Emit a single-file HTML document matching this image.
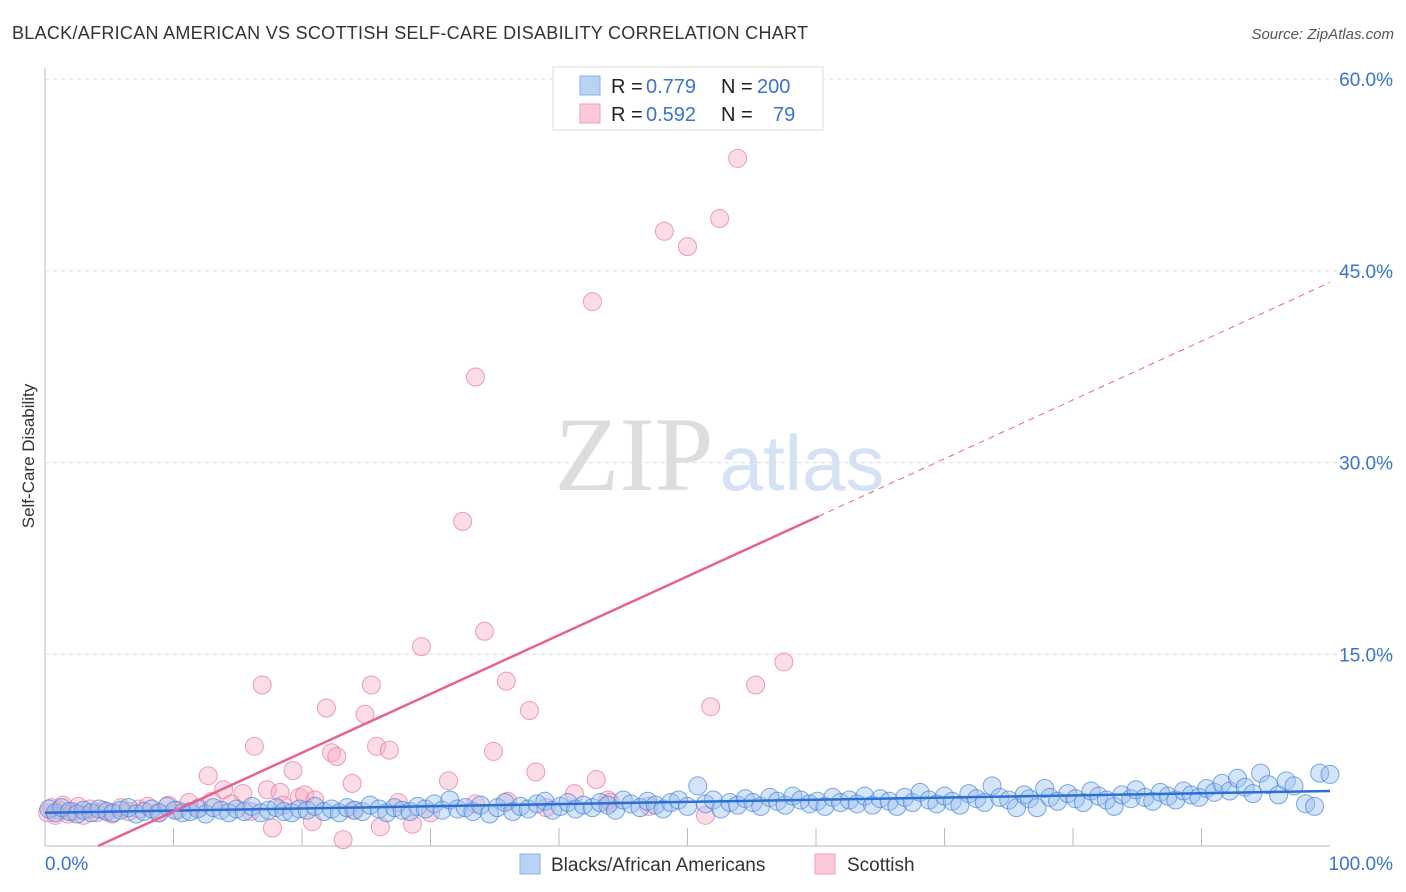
<!DOCTYPE html>
<html><head><meta charset="utf-8"><style>
body{margin:0;background:#fff;font-family:"Liberation Sans",sans-serif;}
#wrap{position:relative;width:1406px;height:892px;overflow:hidden;}
</style></head><body>
<div id="wrap">
<svg id="chart" width="1406" height="892">
<text x="12" y="39" font-size="18" fill="#333" textLength="796">BLACK/AFRICAN AMERICAN VS SCOTTISH SELF-CARE DISABILITY CORRELATION CHART</text>
<text x="1394" y="39" font-size="15" fill="#555" font-style="italic" text-anchor="end">Source: ZipAtlas.com</text>
<text x="34" y="456" font-size="17" fill="#333" text-anchor="middle" transform="rotate(-90 34 456)">Self-Care Disability</text>
<text x="634" y="490" font-size="106" fill="#ddd" font-family="Liberation Serif,serif" text-anchor="middle">ZIP</text>
<text x="802" y="490" font-size="78" fill="#d4e2f4" text-anchor="middle">atlas</text>
<g id="grid"></g><g id="pinkg"></g><g id="blueg"></g><g id="lines"></g>
<g>
<rect x="553" y="67" width="270" height="63" fill="#fff" stroke="#ddd"/>
<rect x="580" y="76" width="20" height="19" fill="#b7d3f5" stroke="#88b2ea"/>
<rect x="580" y="104" width="20" height="19" fill="#fbc9d7" stroke="#f0a0b8"/>
<text y="93" font-size="20" fill="#222"><tspan x="611">R =</tspan><tspan x="646" fill="#3b73d1">0.779</tspan><tspan x="721">N =</tspan><tspan x="757" fill="#3b73d1">200</tspan></text>
<text y="121" font-size="20" fill="#222"><tspan x="611">R =</tspan><tspan x="646" fill="#3b73d1">0.592</tspan><tspan x="721">N =</tspan><tspan x="773" fill="#3b73d1">79</tspan></text>
</g>
<g>
<rect x="520" y="854" width="20" height="20" fill="#b7d3f5" stroke="#88b2ea"/>
<text x="551" y="871" font-size="19" fill="#333">Blacks/African Americans</text>
<rect x="815" y="854" width="20" height="20" fill="#fbc9d7" stroke="#f0a0b8"/>
<text x="847" y="871" font-size="19" fill="#333">Scottish</text>
</g>
</svg></div>
<script>
const yTicks=[15,30,45,60];
const xLabels=["0.0%","100.0%"];
const pinkX=[53.9,52.5,48.2,50.0,42.6,33.5,32.5,34.2,29.3,57.5,16.9,25.4,35.9,55.3,21.9,24.9,37.7,51.8,16.3,25.8,26.8,22.3,22.7,34.9,12.7,19.3,38.2,23.9,31.4,42.9,13.9,15.4,17.3,18.3,19.8,20.2,41.2,17.7,20.8,23.2,26.1,28.6,51.4,43.8,0.2,0.5,0.8,1.1,1.4,1.8,2.2,2.6,3.0,3.5,4.0,4.6,5.2,5.9,6.5,7.3,8.0,8.8,9.6,10.3,11.2,12.0,13.0,14.5,16.0,18.5,21.0,24.0,27.5,30.0,33.5,36.0,39.0,44.0,47.0];
const pinkY=[53.8,49.1,48.1,46.9,42.6,36.7,25.4,16.8,15.6,14.4,12.6,12.6,12.9,12.6,10.8,10.3,10.6,10.9,7.8,7.8,7.5,7.3,7.0,7.4,5.5,5.9,5.8,4.9,5.1,5.2,4.4,4.1,4.4,4.2,3.8,4.0,4.1,1.4,1.9,0.5,1.5,1.7,2.4,3.6,2.6,3.0,2.4,2.8,3.2,2.5,2.7,3.1,2.4,2.9,2.6,2.8,2.5,3.0,2.7,2.9,3.1,2.6,3.2,2.8,3.4,3.0,3.5,3.3,2.7,3.2,3.6,2.8,3.4,2.6,3.3,3.5,3.0,3.4,3.1];
const blueX=[0.3,0.8,1.3,1.9,2.5,3.0,3.6,4.2,4.8,5.3,5.9,6.5,7.1,7.7,8.3,8.9,9.5,10.1,10.7,11.3,11.9,12.5,13.1,13.7,14.3,14.9,15.5,16.1,16.8,17.4,18.0,18.6,19.2,19.8,20.4,21.0,21.7,22.3,22.9,23.5,24.1,24.7,25.3,26.0,26.6,27.2,27.8,28.4,29.0,29.6,30.3,30.9,31.5,32.1,32.7,33.3,33.9,34.6,35.2,35.8,36.4,37.0,37.6,38.3,38.9,39.5,40.1,40.7,41.3,41.9,42.6,43.2,43.8,44.4,45.0,45.6,46.3,46.9,47.5,48.1,48.7,49.3,50.0,50.8,51.4,52.0,52.6,53.3,53.9,54.5,55.1,55.7,56.4,57.0,57.6,58.2,58.8,59.5,60.1,60.7,61.3,61.9,62.6,63.2,63.8,64.4,65.0,65.7,66.3,66.9,67.5,68.1,68.8,69.4,70.0,70.6,71.2,71.9,72.5,73.1,73.7,74.3,75.0,75.6,76.2,76.6,77.2,77.8,78.2,78.8,79.6,80.2,80.8,81.4,82.0,82.6,83.2,83.8,84.5,84.9,85.6,86.2,86.8,87.4,88.0,88.6,89.2,89.8,90.4,91.0,91.6,92.2,92.8,93.4,94.0,94.6,95.2,96.0,96.6,97.2,98.1,98.8,99.2,100];
const blueY=[2.9,2.6,3.0,2.7,2.5,2.8,2.6,2.9,2.7,2.6,2.8,3.0,2.5,2.7,2.9,2.6,3.1,2.8,2.6,2.7,2.9,2.5,3.0,2.8,2.6,2.9,2.7,3.1,2.6,2.8,3.0,2.7,2.6,2.9,2.8,3.1,2.7,2.9,2.6,3.0,2.8,2.7,3.2,2.9,2.6,3.0,2.8,2.7,3.1,2.9,3.3,2.8,3.6,2.9,3.0,2.7,3.2,2.5,3.0,3.4,2.7,3.1,2.9,3.3,3.5,2.8,3.1,3.4,2.9,3.2,3.0,3.4,3.2,2.8,3.6,3.3,3.0,3.5,3.2,2.9,3.4,3.6,3.1,4.7,3.3,3.6,2.9,3.4,3.2,3.7,3.4,3.1,3.8,3.5,3.2,3.9,3.6,3.3,3.5,3.1,3.8,3.4,3.6,3.3,3.9,3.2,3.7,3.5,3.1,3.8,3.4,4.2,3.6,3.3,3.9,3.5,3.2,4.1,3.7,3.4,4.7,3.8,3.6,3.0,4.0,3.7,3.0,4.5,3.8,3.5,4.1,3.7,3.4,4.3,3.9,3.6,3.1,4.0,3.7,4.4,3.8,3.5,4.2,3.9,3.6,4.3,4.0,3.8,4.5,4.2,4.9,4.3,5.3,4.6,4.1,5.7,4.8,4.0,5.1,4.7,3.3,3.1,5.7,5.6];
const blueLine=[2.6,4.3];
const pinkLine=[-1.9,0.46]; // intercept(%), slope
const NS='http://www.w3.org/2000/svg';
const X0=45,X1=1330,Y0=846,PX=12.78;
const sx=v=>X0+(X1-X0)*v/100, sy=v=>Y0-v*PX;
function mk(t,a,p){const e=document.createElementNS(NS,t);for(const k in a)e.setAttribute(k,a[k]);p.appendChild(e);return e;}
const grid=document.getElementById('grid');
yTicks.forEach(t=>{
 const l=mk('line',{x1:X0,x2:1395,y1:sy(t),y2:sy(t),stroke:'#ddd','stroke-dasharray':'4,4'},grid);
 
 
 const tx=mk('text',{x:1393,y:sy(t)+7,'font-size':19,fill:'#3b73d1','text-anchor':'end'},grid);
 tx.textContent=t.toFixed(1)+'%';
 
 
});
mk('line',{x1:X0,x2:X0,y1:68,y2:Y0,stroke:'#bbb'},grid);
mk('line',{x1:X0,x2:X1,y1:Y0,y2:Y0,stroke:'#bbb'},grid);
for(let i=1;i<10;i++)mk('line',{x1:sx(i*10),x2:sx(i*10),y1:Y0,y2:Y0-18,stroke:'#bbb'},grid);
xLabels.forEach((s,i)=>{const t=mk('text',{x:i?1393:45,y:870,'font-size':19,fill:'#3b73d1','text-anchor':i?'end':'start'},grid);t.textContent=s;
 
 });
const pg=document.getElementById('pinkg');
pinkX.forEach((x,i)=>{const c=mk('circle',{cx:sx(x),cy:sy(pinkY[i]),r:9,fill:'rgba(248,170,195,0.4)',stroke:'rgba(230,120,155,0.7)','stroke-width':1},pg);
 
 });
const bg=document.getElementById('blueg');
blueX.forEach((x,i)=>{const c=mk('circle',{cx:sx(x),cy:sy(blueY[i]),r:9,fill:'rgba(150,190,240,0.4)',stroke:'rgba(70,130,220,0.7)','stroke-width':1},bg);
 
 });
const lg=document.getElementById('lines');
const bl=mk('line',{x1:sx(0),y1:sy(blueLine[0]),x2:sx(100),y2:sy(blueLine[1]),stroke:'#2a6fd6','stroke-width':2.5},lg);


const pf=x=>pinkLine[0]+pinkLine[1]*x, xs=(0-pinkLine[0])/pinkLine[1];
const pl=mk('line',{x1:sx(xs),y1:sy(pf(xs)),x2:sx(60.2),y2:sy(pf(60.2)),stroke:'#e8628f','stroke-width':2.5},lg);


const pd=mk('line',{x1:sx(60.2),y1:sy(pf(60.2)),x2:sx(100),y2:sy(pf(100)),stroke:'#e8628f','stroke-width':1,'stroke-dasharray':'6,5'},lg);


</script>
</body></html>
